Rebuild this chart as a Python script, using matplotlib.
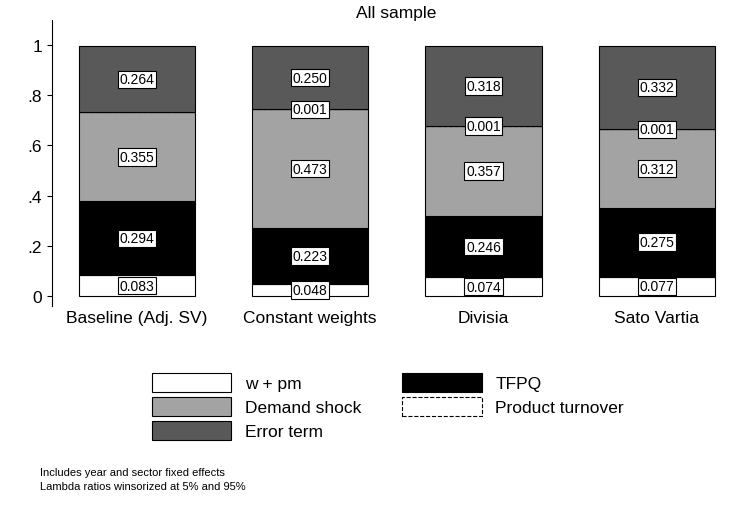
import matplotlib.pyplot as plt
from matplotlib.patches import Patch

plt.rcParams['font.family'] = ['Liberation Sans', 'DejaVu Sans']

methods = ["Baseline (Adj. SV)", "Constant weights", "Divisia", "Sato Vartia"]
wpm = [0.083, 0.048, 0.074, 0.077]
tfpq = [0.294, 0.223, 0.246, 0.275]
demand = [0.355, 0.473, 0.357, 0.312]
turnover = [0.0, 0.001, 0.001, 0.001]
error = [0.264, 0.250, 0.318, 0.332]

comps = [
    ("w + pm", wpm, "white", "solid"),
    ("TFPQ", tfpq, "black", "solid"),
    ("Demand shock", demand, "#a3a3a3", "solid"),
    ("Product turnover", turnover, "white", "dashed"),
    ("Error term", error, "#595959", "solid"),
]

fig = plt.figure(figsize=(7.46, 5.06), dpi=100)
ax = fig.add_axes([52 / 746, 1 - 307 / 506, 688 / 746, 286 / 506])

x = range(len(methods))
bottoms = [0.0] * len(methods)
handles = {}
for name, vals, col, ls in comps:
    ax.bar(x, vals, width=0.67, bottom=bottoms, color=col,
           edgecolor="black", linewidth=0.8, linestyle=ls)
    handles[name] = Patch(facecolor=col, edgecolor="black", linewidth=0.8, linestyle=ls)
    for i, v in enumerate(vals):
        if v > 0:
            ax.text(i, bottoms[i] + v / 2, f"{v:.3f}", ha="center", va="center",
                    fontsize=10, bbox=dict(boxstyle="square,pad=0.12",
                                           facecolor="white", edgecolor="black", lw=0.8))
    bottoms = [b + v for b, v in zip(bottoms, vals)]

ax.set_xlim(-0.49, 3.48)
ax.set_ylim(-0.04, 1.1)
ax.set_yticks([0, 0.2, 0.4, 0.6, 0.8, 1.0])
ax.set_yticklabels(["0", ".2", ".4", ".6", ".8", "1"], fontsize=12.5)
ax.set_xticks(list(x))
ax.set_xticklabels(methods, fontsize=12.5)
ax.tick_params(axis="x", length=0, pad=3)
for s in ["top", "right", "bottom"]:
    ax.spines[s].set_visible(False)
ax.set_title("All sample", fontsize=12.5, pad=2)

order = ["w + pm", "Demand shock", "Error term", "TFPQ", "Product turnover"]
fig.legend([handles[n] for n in order], order, ncol=2, frameon=False,
           loc="upper left", bbox_to_anchor=(136 / 746, 1 - 358 / 506),
           fontsize=12.5, handlelength=4.6, handleheight=1.3,
           columnspacing=2.3, labelspacing=0.3, handletextpad=0.8)

fig.text(40 / 746, 1 - 476 / 506, "Includes year and sector fixed effects", fontsize=8)
fig.text(40 / 746, 1 - 490 / 506, "Lambda ratios winsorized at 5% and 95%", fontsize=8)

fig.savefig("out.png", dpi=100)
